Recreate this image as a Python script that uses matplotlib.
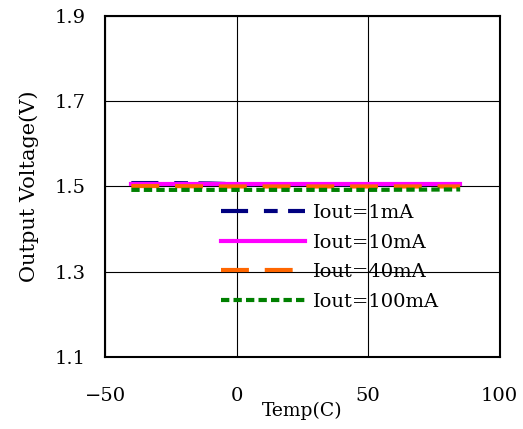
import matplotlib.pyplot as plt

plt.rcParams['font.family'] = ['DejaVu Serif', 'DejaVu Sans']

temps = [-40, -25, -10, 0, 25, 50, 85]
v_1ma = [1.508, 1.508, 1.507, 1.505, 1.505, 1.505, 1.505]
v_10ma = [1.506, 1.506, 1.506, 1.506, 1.506, 1.506, 1.506]
v_40ma = [1.501, 1.501, 1.500, 1.500, 1.500, 1.500, 1.500]
v_100ma = [1.492, 1.492, 1.492, 1.492, 1.492, 1.492, 1.493]

x_ticks = [-50, 0, 50, 100]
y_ticks = [1.1, 1.3, 1.5, 1.7, 1.9]
y_ticklabels = ['1.1', '1.3', '1.5', '1.7', '1.9']

fig = plt.figure(figsize=(5.23, 4.29), dpi=100)
ax = fig.add_axes([0.2008, 0.168, 0.7545, 0.7947])

ax.plot(temps, v_1ma, color='#000080', lw=3, dashes=(6.5, 3.8, 3.3, 2.5), label='Iout=1mA')
ax.plot(temps, v_10ma, color='#ff00ff', lw=3, label='Iout=10mA')
ax.plot(temps, v_40ma, color='#ff6600', lw=3, dashes=(6.7, 3.8), label='Iout=40mA')
ax.plot(temps, v_100ma, color='#008000', lw=3, dashes=(2, 1), label='Iout=100mA')

ax.set_xlim(-50, 100)
ax.set_ylim(1.1, 1.9)
ax.set_xticks(x_ticks)
ax.set_yticks(y_ticks)
ax.set_yticklabels(y_ticklabels)
ax.grid(True, color='black', lw=0.8)
ax.tick_params(axis='x', length=0, pad=22, labelsize=14)
ax.tick_params(axis='y', length=0, pad=14, labelsize=14)
for s in ax.spines.values():
    s.set_linewidth(1.5)

ax.set_xlabel('Temp(C)', fontsize=13.5, labelpad=-3)
ax.set_ylabel('Output Voltage(V)', fontsize=15, labelpad=11)

ax.legend(loc='upper left', bbox_to_anchor=(0.25, 0.50), frameon=False,
          fontsize=14, handlelength=4.3, handletextpad=0.4, labelspacing=0.6)

plt.savefig('out.png', dpi=100)
